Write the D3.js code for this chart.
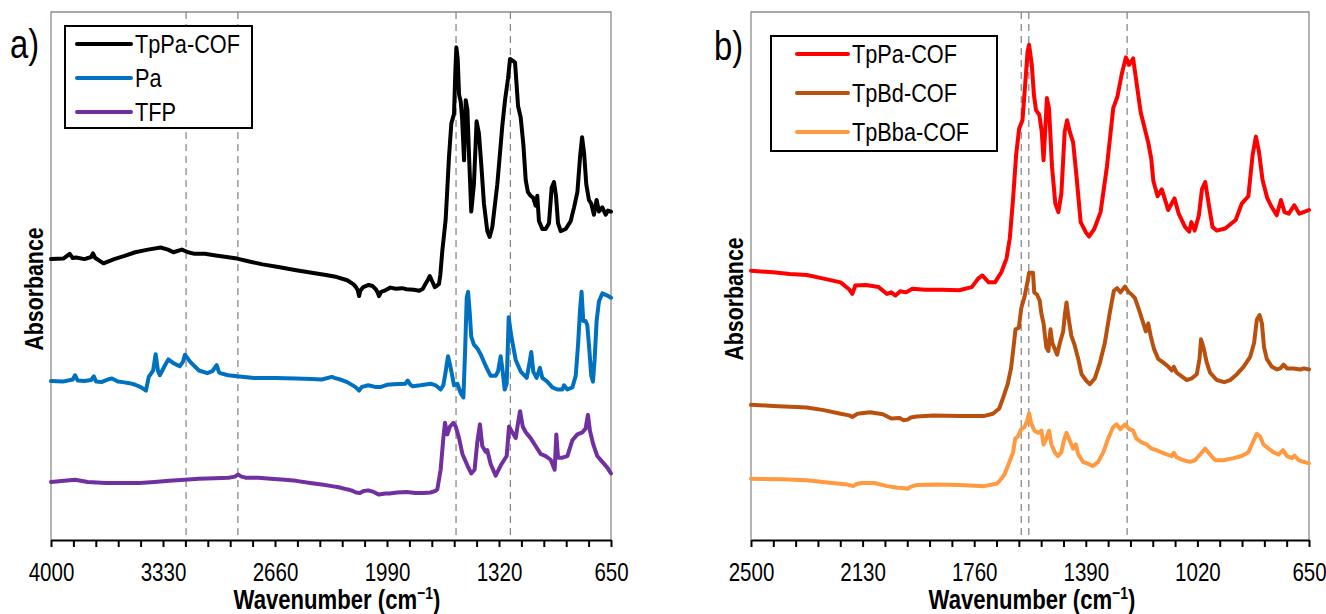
<!DOCTYPE html>
<html>
<head>
<meta charset="utf-8">
<script src="https://cdn.jsdelivr.net/npm/d3@7"></script>
<style>
  html, body { margin: 0; padding: 0; background: #fff; }
  svg { display: block; }
</style>
</head>
<body>
<svg id="chart" width="1326" height="614"></svg>
<script>
// ---------- Panel a) : wavenumber (cm-1), absorbance (offset, arb. units) ----------
const ticksA = [4000, 3330, 2660, 1990, 1320, 650];
const guidesA = [3192, 2882, 1577, 1252];

const tpPaA = [[4000,53.2],[3926,53.3],[3888,54.2],[3870,53.4],[3850,53.5],[3800,53.2],[3760,53.6],[3749,54.3],[3735,53.4],[3686,52.4],[3622,53.2],[3560,53.8],[3496,54.5],[3420,55.0],[3344,55.4],[3300,55.0],[3268,54.5],[3217,55.0],[3180,54.5],[3141,54.2],[3080,54.2],[3014,53.9],[2950,53.6],[2887,53.3],[2820,52.8],[2735,52.2],[2640,51.7],[2533,51.1],[2440,50.6],[2355,50.2],[2290,49.8],[2228,49.2],[2190,48.4],[2178,48.0],[2165,47.3],[2157,46.2],[2150,47.2],[2132,47.9],[2100,48.3],[2076,48.1],[2055,47.4],[2045,46.8],[2038,46.2],[2025,47.0],[2000,47.3],[1970,47.8],[1937,47.6],[1900,47.7],[1873,47.5],[1830,47.4],[1797,47.2],[1775,47.6],[1760,48.5],[1745,49.3],[1734,50.0],[1720,49.0],[1704,47.9],[1690,48.2],[1679,48.5],[1671,50.2],[1659,54.8],[1639,60.7],[1619,72.6],[1605,78.9],[1589,80.7],[1581,88.9],[1575,93.3],[1567,91.1],[1559,84.4],[1549,83.0],[1541,80.0],[1529,71.9],[1519,83.3],[1509,81.5],[1499,72.6],[1486,62.2],[1470,67.4],[1454,79.3],[1440,77.0],[1426,71.1],[1410,63.7],[1390,58.5],[1376,57.4],[1360,59.3],[1330,67.4],[1300,78.5],[1284,83.3],[1266,87.4],[1254,91.1],[1234,90.7],[1224,90.4],[1206,82.2],[1190,80.0],[1174,74.8],[1160,68.1],[1147,65.9],[1131,65.2],[1115,64.8],[1101,63.3],[1091,65.2],[1081,60.4],[1061,58.9],[1041,58.9],[1021,60.0],[1005,66.7],[991,67.8],[979,65.2],[967,60.0],[951,58.5],[921,58.9],[891,60.4],[871,63.0],[851,65.9],[835,72.6],[823,76.3],[811,73.3],[798,67.4],[782,64.4],[768,63.7],[752,61.6],[736,64.4],[722,62.2],[702,63.0],[682,61.6],[668,62.4],[650,62.2]];

const paA = [[4000,30.1],[3930,30.0],[3870,30.4],[3856,31.2],[3840,30.2],[3800,30.1],[3760,30.3],[3744,31.0],[3730,30.0],[3698,29.9],[3660,30.4],[3635,30.6],[3600,30.0],[3572,29.9],[3530,29.7],[3496,29.4],[3460,28.9],[3432,28.3],[3415,30.9],[3389,32.1],[3374,35.2],[3360,32.0],[3349,31.2],[3318,33.1],[3298,34.2],[3268,33.5],[3230,32.9],[3210,33.8],[3199,35.1],[3180,34.3],[3166,33.7],[3115,32.1],[3065,31.6],[3034,32.0],[3009,33.1],[2995,31.8],[2989,31.6],[2940,31.2],[2887,31.0],[2786,30.7],[2659,30.7],[2533,30.6],[2440,30.5],[2380,30.4],[2320,30.9],[2304,30.7],[2260,30.3],[2228,29.9],[2180,29.0],[2157,28.3],[2140,29.0],[2102,29.3],[2060,29.0],[2026,29.0],[1990,29.4],[1950,29.5],[1880,29.6],[1866,30.2],[1850,29.4],[1836,29.1],[1789,29.3],[1729,29.6],[1699,29.3],[1669,28.5],[1653,29.3],[1639,31.9],[1625,34.8],[1609,32.6],[1589,29.3],[1569,29.6],[1549,27.8],[1533,27.0],[1523,35.6],[1513,45.9],[1505,47.0],[1495,43.0],[1486,38.5],[1470,37.0],[1450,36.3],[1430,35.2],[1400,33.0],[1370,31.1],[1340,31.1],[1326,31.9],[1310,34.8],[1298,31.9],[1286,28.5],[1274,29.6],[1262,42.2],[1246,38.5],[1220,34.1],[1190,31.9],[1154,30.7],[1139,33.3],[1127,35.6],[1115,31.9],[1095,30.7],[1075,32.6],[1061,30.7],[1031,30.0],[1001,28.9],[971,28.5],[941,28.5],[931,29.3],[911,28.5],[881,28.9],[861,31.1],[847,37.0],[835,43.7],[826,47.0],[816,41.5],[802,41.5],[792,40.7],[782,37.0],[768,31.1],[758,30.0],[748,34.1],[736,41.5],[722,45.2],[702,46.7],[672,46.3],[650,45.9]];

const tfpA = [[4000,11.0],[3920,11.2],[3856,11.4],[3780,11.0],[3673,10.8],[3570,10.8],[3470,10.8],[3380,11.0],[3293,11.2],[3200,11.4],[3115,11.6],[3020,11.7],[2938,11.8],[2900,12.0],[2882,12.4],[2860,12.0],[2837,11.8],[2760,11.8],[2685,11.6],[2600,11.4],[2533,11.2],[2450,10.8],[2380,10.5],[2320,10.2],[2279,10.0],[2230,9.6],[2203,9.4],[2175,9.0],[2152,8.9],[2130,9.3],[2102,9.4],[2070,9.1],[2038,8.6],[2000,8.8],[1975,8.8],[1930,9.0],[1873,9.1],[1820,8.9],[1772,8.9],[1729,9.0],[1700,9.3],[1689,9.6],[1669,13.3],[1653,19.3],[1643,22.2],[1629,20.0],[1613,21.5],[1593,22.2],[1579,21.5],[1559,19.3],[1539,16.3],[1509,14.1],[1486,12.6],[1466,13.3],[1450,18.5],[1434,21.9],[1420,17.8],[1400,16.7],[1390,17.0],[1370,14.4],[1340,12.2],[1310,14.1],[1274,15.9],[1260,21.5],[1246,20.7],[1220,19.3],[1206,22.2],[1194,24.4],[1178,21.5],[1160,20.4],[1131,19.3],[1101,17.8],[1071,16.3],[1041,15.9],[1011,15.2],[987,13.3],[977,20.0],[967,15.6],[941,15.6],[911,15.9],[881,18.9],[851,20.0],[821,20.4],[802,21.1],[788,23.7],[776,20.7],[756,18.1],[732,15.9],[702,14.8],[672,13.7],[650,12.6]];

// ---------- Panel b) ----------
const ticksB = [2500, 2130, 1760, 1390, 1020, 650];
const guidesB = [1604, 1579, 1253];

const tpPaB = [[2500,51.0],[2427,50.7],[2371,50.4],[2315,50.2],[2259,49.5],[2203,48.8],[2175,47.5],[2164,46.6],[2154,48.2],[2119,48.3],[2077,47.9],[2049,46.6],[2035,46.9],[2021,46.3],[2005,47.1],[1986,46.9],[1965,47.6],[1923,47.4],[1867,47.4],[1810,47.3],[1768,47.9],[1747,49.5],[1733,50.1],[1712,48.8],[1691,48.8],[1670,50.7],[1653,53.3],[1642,57.1],[1631,64.7],[1621,72.9],[1611,77.9],[1600,79.5],[1592,85.5],[1583,92.5],[1578,93.8],[1569,90.0],[1562,84.3],[1555,81.4],[1544,80.5],[1536,77.3],[1530,71.9],[1523,79.2],[1519,83.7],[1512,81.8],[1502,70.7],[1491,63.7],[1481,62.1],[1471,65.6],[1460,77.3],[1452,79.5],[1443,77.3],[1432,75.3],[1421,69.0],[1407,60.2],[1390,58.3],[1379,57.5],[1362,58.9],[1341,62.1],[1320,70.7],[1299,81.8],[1285,84.0],[1271,88.2],[1257,91.4],[1246,90.0],[1233,91.2],[1222,86.7],[1208,81.0],[1194,77.8],[1183,75.3],[1173,72.2],[1166,68.0],[1152,65.1],[1138,66.4],[1127,64.4],[1117,62.5],[1096,64.7],[1082,61.8],[1061,59.3],[1047,58.4],[1040,60.2],[1029,58.6],[1015,61.5],[1005,66.4],[994,67.8],[981,63.1],[970,59.3],[956,58.6],[928,59.0],[893,60.6],[873,63.7],[851,65.1],[837,72.9],[826,76.4],[816,73.6],[804,68.2],[788,64.7],[774,63.1],[757,61.5],[743,64.4],[731,62.1],[717,61.8],[699,63.4],[682,61.8],[668,62.1],[650,62.5]];

const tpBdB = [[2500,25.6],[2427,25.4],[2315,25.1],[2259,24.6],[2203,23.9],[2175,23.6],[2164,23.3],[2147,23.9],[2105,24.2],[2063,23.8],[2035,23.0],[2007,23.1],[1995,22.7],[1981,22.8],[1970,23.2],[1951,23.4],[1895,23.6],[1810,23.5],[1726,23.5],[1698,23.9],[1677,24.9],[1663,27.1],[1649,29.5],[1638,32.5],[1631,35.8],[1623,39.9],[1612,40.2],[1604,43.9],[1593,46.1],[1583,49.0],[1578,50.6],[1574,50.6],[1565,50.6],[1561,46.9],[1552,46.5],[1543,45.4],[1537,42.8],[1530,41.0],[1521,36.5],[1514,35.8],[1507,39.9],[1501,37.3],[1493,36.2],[1485,35.1],[1476,37.3],[1465,39.5],[1460,42.4],[1454,45.0],[1448,42.4],[1438,38.7],[1427,36.9],[1415,34.3],[1404,31.4],[1390,30.3],[1377,29.5],[1360,30.6],[1343,33.6],[1327,37.3],[1310,43.2],[1297,47.2],[1286,47.7],[1275,46.9],[1260,48.0],[1249,47.0],[1238,46.5],[1227,45.8],[1213,43.5],[1199,41.0],[1191,39.5],[1183,41.0],[1175,38.7],[1164,36.2],[1150,34.3],[1133,33.6],[1116,32.8],[1105,32.1],[1098,32.8],[1089,31.7],[1072,31.0],[1055,30.3],[1039,30.6],[1022,31.4],[1013,34.3],[1008,38.0],[1000,36.5],[989,33.6],[978,31.7],[956,30.3],[931,29.9],[911,30.3],[889,31.4],[867,32.8],[845,34.7],[832,37.3],[823,41.7],[814,42.6],[806,41.0],[799,36.5],[790,34.3],[773,32.8],[756,32.3],[745,32.5],[734,33.2],[723,32.5],[701,32.5],[679,32.3],[667,32.5],[650,32.3]];

const tpBbaB = [[2500,11.6],[2399,11.5],[2315,11.3],[2231,10.8],[2180,10.5],[2161,10.2],[2150,10.6],[2133,10.8],[2091,10.8],[2049,10.2],[2014,9.9],[1990,9.8],[1981,9.7],[1970,10.1],[1951,10.4],[1881,10.5],[1810,10.4],[1726,10.2],[1684,10.7],[1670,11.6],[1659,12.5],[1643,14.8],[1631,16.6],[1624,19.2],[1615,19.6],[1604,21.0],[1593,21.4],[1585,22.5],[1578,24.0],[1571,22.1],[1560,20.7],[1548,20.3],[1537,20.7],[1530,18.1],[1521,19.2],[1512,20.7],[1504,18.1],[1493,16.6],[1482,15.9],[1471,16.6],[1463,18.8],[1454,20.3],[1443,18.8],[1432,17.3],[1423,18.1],[1415,16.2],[1399,14.8],[1382,14.4],[1366,14.0],[1349,14.8],[1332,16.6],[1316,19.2],[1299,21.4],[1288,21.9],[1275,21.0],[1260,21.9],[1246,21.0],[1233,20.7],[1222,19.2],[1205,18.5],[1188,18.1],[1172,17.3],[1155,17.0],[1139,16.6],[1122,16.2],[1105,15.9],[1098,16.5],[1089,15.7],[1067,15.1],[1044,14.8],[1028,15.1],[1011,16.2],[994,17.3],[978,16.2],[961,15.1],[934,15.1],[900,15.5],[873,15.9],[851,16.6],[834,18.8],[823,20.1],[812,19.6],[801,18.1],[784,17.3],[767,16.6],[751,16.2],[736,17.0],[723,15.9],[706,15.5],[698,16.0],[684,15.1],[667,14.8],[650,14.5]];

// ---------- Drawing ----------
const FONT = "'Liberation Sans', Arial, Helvetica, sans-serif";
const NARROW = 0.82;           // condensed lettering, like Arial Narrow
const svg = d3.select("#chart");
svg.append("rect").attr("width", 1326).attr("height", 614).attr("fill", "#fff");

function drawPanel(cfg) {
  const g = svg.append("g");
  const x = d3.scaleLinear().domain(cfg.domain).range([cfg.left, cfg.right]);
  const y = d3.scaleLinear().domain([0, 100]).range([cfg.bottom, cfg.top]);

  // plot-area frame (left, top, right) in grey
  g.append("path")
    .attr("d", `M${cfg.left},${cfg.bottom}V${cfg.top}H${cfg.right}V${cfg.bottom}`)
    .attr("fill", "none").attr("stroke", "#8c8c8c").attr("stroke-width", 1.3);

  // dashed guide lines at band positions
  g.selectAll(".guide").data(cfg.guides).join("line")
    .attr("x1", d => x(d)).attr("x2", d => x(d))
    .attr("y1", cfg.top).attr("y2", cfg.bottom)
    .attr("stroke", "#8a8a8a").attr("stroke-width", 1.3)
    .attr("stroke-dasharray", "7,5");

  // spectra
  const line = d3.line().x(d => x(d[0])).y(d => y(d[1]));
  cfg.series.forEach(s => {
    g.append("path").datum(s.data)
      .attr("d", line)
      .attr("fill", "none").attr("stroke", s.color)
      .attr("stroke-width", 4)
      .attr("stroke-linejoin", "round").attr("stroke-linecap", "round");
  });

  // minor ticks: five divisions between labelled ticks
  const minor = [];
  for (let i = 0; i < cfg.ticks.length - 1; i++) {
    const a = cfg.ticks[i], b = cfg.ticks[i + 1];
    for (let k = 1; k < 5; k++) minor.push(a + (b - a) * k / 5);
  }
  const minorAxis = g.append("g")
    .attr("transform", `translate(0,${cfg.bottom})`)
    .call(d3.axisBottom(x).tickValues(minor).tickSize(7).tickSizeOuter(0).tickFormat(""));
  minorAxis.select(".domain").remove();
  minorAxis.selectAll(".tick line").attr("stroke", "#000").attr("stroke-width", 2);

  const axis = g.append("g")
    .attr("transform", `translate(0,${cfg.bottom})`)
    .call(d3.axisBottom(x).tickValues(cfg.ticks).tickSize(7).tickSizeOuter(0)
      .tickPadding(16).tickFormat(d3.format("d")));
  axis.attr("font-family", FONT).attr("font-size", 26);
  axis.select(".domain").attr("stroke", "#000").attr("stroke-width", 2);
  axis.selectAll(".tick line").attr("stroke", "#000").attr("stroke-width", 2);
  axis.selectAll(".tick text").attr("fill", "#000").attr("transform", "scale(0.79,1)");

  // x-axis title
  const xt = g.append("text")
    .attr("transform", `translate(${(cfg.left + cfg.right) / 2 + cfg.titleShift},609) scale(${NARROW},1)`)
    .attr("text-anchor", "middle")
    .attr("font-family", FONT).attr("font-size", 27).attr("font-weight", "bold");
  xt.append("tspan").text("Wavenumber (cm");
  xt.append("tspan").attr("dy", -10).attr("font-size", 17).text("\u22121");
  xt.append("tspan").attr("dy", 10).text(")");

  // y-axis title
  g.append("text")
    .attr("transform", `translate(${cfg.ylab[0]},${cfg.ylab[1]}) rotate(-90) scale(${NARROW},1)`)
    .attr("text-anchor", "middle")
    .attr("font-family", FONT).attr("font-size", 26).attr("font-weight", "bold")
    .text("Absorbance");

  // panel letter
  g.append("text")
    .attr("transform", `translate(${cfg.letter[1]},${cfg.letter[2]}) scale(${NARROW},1)`)
    .attr("font-family", FONT).attr("font-size", 40)
    .text(cfg.letter[0]);

  // legend
  const L = cfg.legend;
  const lg = g.append("g");
  lg.append("rect").attr("x", L.x).attr("y", L.y).attr("width", L.w).attr("height", L.h)
    .attr("fill", "#fff").attr("stroke", "#000").attr("stroke-width", 2);
  cfg.series.forEach((s, i) => {
    const yy = L.rows[i];
    lg.append("line").attr("x1", L.x1).attr("x2", L.x2).attr("y1", yy).attr("y2", yy)
      .attr("stroke", s.color).attr("stroke-width", 4).attr("stroke-linecap", "round");
    lg.append("text")
      .attr("transform", `translate(${L.tx},${yy + 9}) scale(${NARROW},1)`)
      .attr("font-family", FONT).attr("font-size", 26.5)
      .text(s.name);
  });
}

drawPanel({
  domain: [4000, 650], left: 51, right: 611, top: 12, bottom: 540,
  ticks: ticksA, guides: guidesA, titleShift: 6,
  series: [
    { name: "TpPa-COF", data: tpPaA, color: "#000000" },
    { name: "Pa", data: paA, color: "#0070C0" },
    { name: "TFP", data: tfpA, color: "#7030A0" }
  ],
  legend: { x: 65, y: 26, w: 187, h: 102, x1: 77, x2: 131, tx: 135, rows: [44, 78, 112] },
  letter: ["a)", 10, 58],
  ylab: [43, 289]
});

drawPanel({
  domain: [2500, 650], left: 751, right: 1309, top: 12, bottom: 540,
  ticks: ticksB, guides: guidesB, titleShift: 2,
  series: [
    { name: "TpPa-COF", data: tpPaB, color: "#FF0000" },
    { name: "TpBd-COF", data: tpBdB, color: "#B9500E" },
    { name: "TpBba-COF", data: tpBbaB, color: "#FF9A40" }
  ],
  legend: { x: 771, y: 36, w: 226, h: 115, x1: 797, x2: 848, tx: 852, rows: [54, 93, 132] },
  letter: ["b)", 714, 60],
  ylab: [743, 299]
});
</script>
</body>
</html>
